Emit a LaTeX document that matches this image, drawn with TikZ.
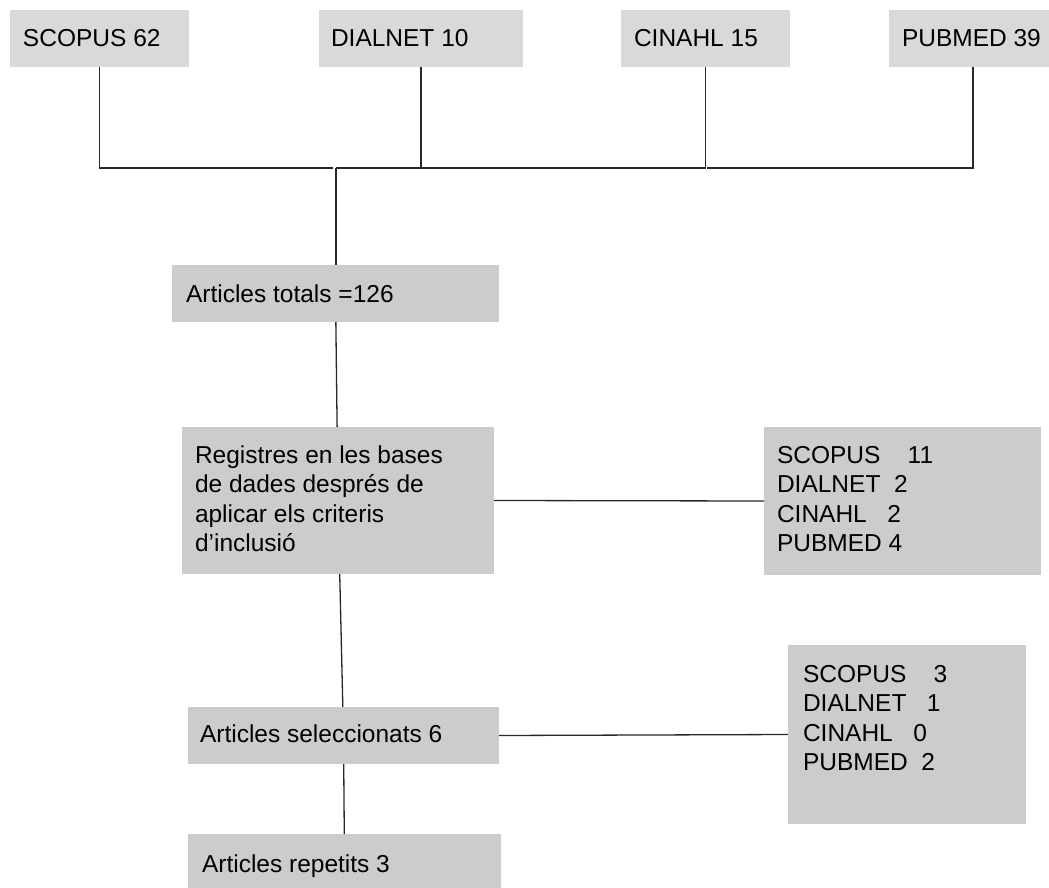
\documentclass[tikz,border=0pt]{standalone}
\usepackage{fontspec}
\setmainfont{Liberation Sans}
\definecolor{topgray}{RGB}{217,217,217}
\definecolor{boxgray}{RGB}{204,204,204}
\definecolor{linecol}{RGB}{40,40,40}
\newcommand\bxtext[4]{\parbox[c][#1][t]{#2}{\raggedright\rule{0pt}{#3}#4}}
\tikzset{
  gbox/.style={fill=boxgray, inner ysep=0pt, outer sep=0pt, anchor=north west,
    font=\fontsize{24.5}{29.5}\selectfont},
  tbox/.style={gbox, fill=topgray},
  conn/.style={draw=linecol, line width=1.3pt}
}
\begin{document}
\begin{tikzpicture}[x=1pt,y=-1pt]
\useasboundingbox (0,0) rectangle (1049,888);
% top row
\node[tbox, inner xsep=13pt] (s62) at (10,10) {\bxtext{57pt}{153pt}{37pt}{SCOPUS 62}};
\node[tbox, inner xsep=12pt] (d10) at (319,10) {\bxtext{57pt}{180pt}{37pt}{DIALNET 10}};
\node[tbox, inner xsep=13pt] (c15) at (621,10) {\bxtext{57pt}{143pt}{37pt}{CINAHL 15}};
\node[tbox, inner xsep=13pt] (p39) at (889,10) {\bxtext{57pt}{142pt}{37pt}{PUBMED 39}};
% main column
\node[gbox, inner xsep=14pt] (tot) at (172,265) {\bxtext{57pt}{299pt}{37pt}{Articles totals =126}};
\node[gbox, inner xsep=13pt] (reg) at (182,427) {\bxtext{147pt}{286pt}{36pt}{Registres en les bases\\de dades després de\\aplicar els criteris\\d’inclusió}};
\node[gbox, inner xsep=12pt] (sel) at (188,707) {\bxtext{57pt}{287pt}{35pt}{Articles seleccionats 6}};
\node[gbox, inner xsep=14pt] (rep) at (188,834) {\bxtext{57pt}{285pt}{38pt}{Articles repetits 3}};
% side boxes
\node[gbox, inner xsep=13pt] (r1) at (764,427) {\bxtext{148pt}{251pt}{36pt}{SCOPUS\ \ \ \ 11\\DIALNET\ \ 2\\CINAHL\ \ \ 2\\PUBMED\ 4}};
\node[gbox, inner xsep=15pt] (r2) at (788,645) {\bxtext{179pt}{208pt}{37pt}{SCOPUS\ \ \ \ 3\\DIALNET\ \ \ 1\\CINAHL\ \ \ 0\\PUBMED\ \ 2}};
% junction coordinates
\coordinate (ja) at (333,168);
\coordinate (jb) at (336,168);
\coordinate (jc) at (707,168);
% connectors
\draw[conn] (s62) |- (ja);
\draw[conn] (jb) -| (c15.south);
\draw[conn] (d10) -- (d10 |- jb);
\draw[conn] (p39) |- (jc);
\draw[conn] (jb) -- (jb |- tot.north);
\draw[conn] (tot) -- (reg);
\draw[conn] (reg) -- (sel);
\draw[conn] (sel) -- (rep);
\draw[conn] (reg.east) -- (r1.west);
\draw[conn] (sel.east) -- (r2.west);
\end{tikzpicture}
\end{document}
